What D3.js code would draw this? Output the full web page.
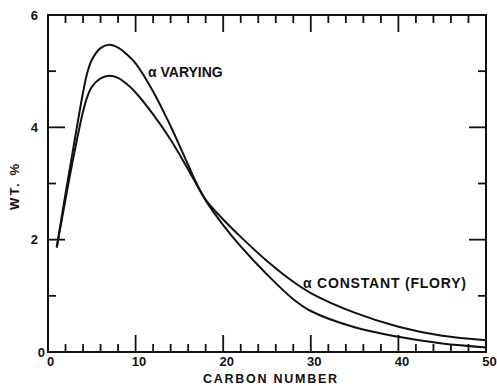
<!DOCTYPE html>
<html>
<head>
<script src="https://cdn.jsdelivr.net/npm/d3@7"></script>
<style>
body { margin: 0; background: #fff; }
text { font-family: 'Liberation Sans', Arial, sans-serif; font-weight: bold; fill: #111; }
</style>
</head>
<body>
<svg id="chart" width="497" height="386"></svg>
<script>
// carbon number vs weight percent
const carbon = [1, 2, 3, 4, 4.5, 5, 6, 7, 8, 9, 10, 12, 14, 16, 17, 18, 20, 22, 25, 28, 30, 35, 40, 45, 50];
const alphaVarying = [1.86, 2.82, 3.73, 4.62, 4.98, 5.2, 5.41, 5.47, 5.42, 5.3, 5.14, 4.64, 4.02, 3.33, 2.99, 2.70, 2.26, 1.88, 1.38, 0.94, 0.73, 0.44, 0.27, 0.15, 0.08];
const alphaConstant = [1.86, 2.72, 3.54, 4.28, 4.55, 4.72, 4.87, 4.92, 4.88, 4.77, 4.62, 4.23, 3.78, 3.25, 2.97, 2.71, 2.36, 2.05, 1.62, 1.25, 1.05, 0.70, 0.45, 0.29, 0.21];
const xTicks = d3.range(0, 51, 2);
const yTicks = d3.range(0, 7, 1);
const xLabels = [0, 10, 20, 30, 40, 50];
const yLabels = [0, 2, 4, 6];

const svg = d3.select('#chart');
const mLeft = 48, mRight = 486, mTop = 15, mBottom = 352;

const x = d3.scaleLinear().domain([0, 50]).range([mLeft, mRight]);
const y = d3.scaleLinear().domain([0, 6]).range([mBottom, mTop]);

const major = 17, minor = 8;

// curves
const line = d3.line().curve(d3.curveCatmullRom.alpha(0.5));
[alphaVarying, alphaConstant].forEach(vals => {
  svg.append('path')
    .attr('d', line(carbon.map((c, i) => [x(c), y(vals[i])])))
    .attr('fill', 'none')
    .attr('stroke', '#111')
    .attr('stroke-width', 2);
});

// inward ticks, long at the labelled values
function drawTicks(vals, isMajor, pos, horizontal, dir) {
  svg.append('g').selectAll('line')
    .data(vals)
    .join('line')
    .attr('x1', d => horizontal ? pos : x(d))
    .attr('x2', d => horizontal ? pos + dir * (isMajor(d) ? major : minor) : x(d))
    .attr('y1', d => horizontal ? y(d) : pos)
    .attr('y2', d => horizontal ? y(d) : pos + dir * (isMajor(d) ? major : minor))
    .attr('stroke', '#111')
    .attr('stroke-width', 1.8);
}

drawTicks(xTicks.slice(1, -1), d => d % 10 === 0, mBottom, false, -1);
drawTicks(xTicks.slice(1, -1), d => d % 10 === 0, mTop, false, 1);
drawTicks(yTicks.slice(1, -1), d => d % 2 === 0, mLeft, true, 1);
drawTicks(yTicks.slice(1, -1), d => d % 2 === 0, mRight, true, -1);

// frame
svg.append('rect')
  .attr('x', mLeft).attr('y', mTop)
  .attr('width', mRight - mLeft).attr('height', mBottom - mTop)
  .attr('fill', 'none').attr('stroke', '#111').attr('stroke-width', 2);

// tick labels
svg.append('g')
  .attr('transform', `translate(0,${mBottom})`)
  .call(d3.axisBottom(x).tickValues(xLabels).tickFormat(d3.format('d')).tickSize(0).tickPadding(5))
  .call(g => g.select('.domain').remove())
  .call(g => g.selectAll('.tick text').attr('font-size', 13).attr('dx', d => d === 0 ? 2 : 3));

svg.append('g')
  .attr('transform', `translate(${mLeft},0)`)
  .call(d3.axisLeft(y).tickValues(yLabels).tickFormat(d3.format('d')).tickSize(0))
  .call(g => g.select('.domain').remove())
  .call(g => g.selectAll('.tick text').attr('font-size', 13).attr('x', d => d === 0 ? -3 : -10));

// curve labels
svg.append('text').attr('x', 148).attr('y', 77).attr('font-size', 14).text('α VARYING');
svg.append('text').attr('x', 303).attr('y', 288).attr('font-size', 14).attr('textLength', 163).text('α CONSTANT (FLORY)');

// axis titles
svg.append('text').attr('x', 270).attr('y', 383).attr('text-anchor', 'middle')
  .attr('font-size', 12.5).attr('textLength', 134).text('CARBON NUMBER');
svg.append('text').attr('transform', 'translate(19,187) rotate(-90)').attr('text-anchor', 'middle')
  .attr('font-size', 13).attr('textLength', 46).text('WT. %');
</script>
</body>
</html>
